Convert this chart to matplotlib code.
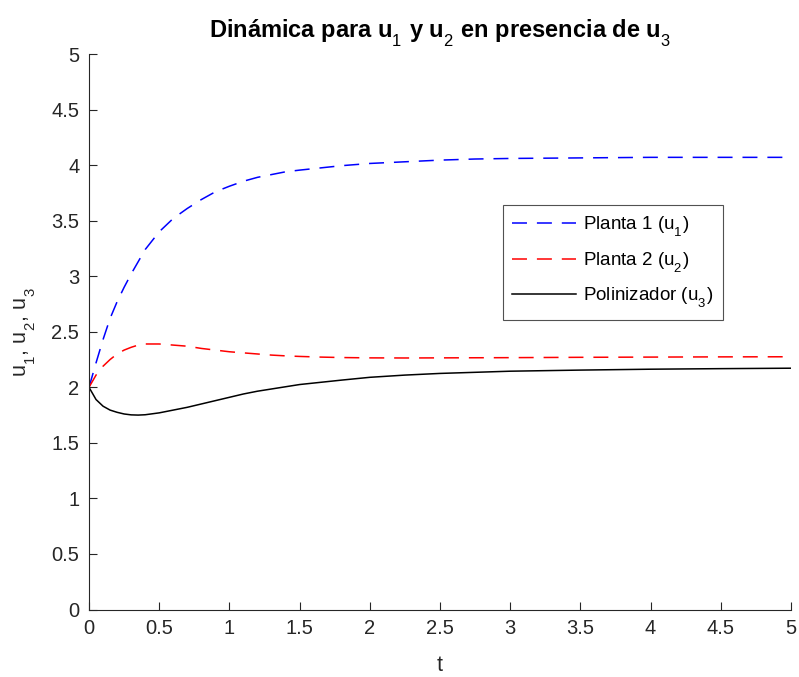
import matplotlib
matplotlib.use("Agg")
import matplotlib.pyplot as plt

plt.rcParams['font.family'] = ['Liberation Sans', 'DejaVu Sans']
plt.rcParams['mathtext.fontset'] = 'custom'
plt.rcParams['mathtext.rm'] = 'Liberation Sans'
plt.rcParams['mathtext.it'] = 'Liberation Sans'
plt.rcParams['mathtext.bf'] = 'Liberation Sans:bold'

# MATLAB-like subscripts: dropped lower, with a small gap after them
try:
    from matplotlib import _mathtext
    _mathtext.FontConstantsBase.sub1 = 0.75
    _mathtext.FontConstantsBase.sub2 = 0.85
    _mathtext.FontConstantsBase.script_space = 0.12
except Exception:
    pass

# values
t = [0.0, 0.05, 0.1, 0.15, 0.2, 0.25, 0.3, 0.35, 0.4, 0.5, 0.6, 0.7, 0.8, 0.9,
     1.0, 1.1, 1.2, 1.3, 1.4, 1.5, 1.65, 1.8, 2.0, 2.25, 2.5, 2.75, 3.0, 3.5, 4.0, 4.5, 5.0]
u1 = [2.0, 2.22, 2.43, 2.62, 2.77, 2.90, 3.02, 3.13, 3.24, 3.40, 3.52, 3.61, 3.69, 3.76,
      3.81, 3.855, 3.89, 3.915, 3.94, 3.955, 3.975, 3.995, 4.015, 4.03, 4.045, 4.055, 4.06, 4.065, 4.07, 4.07, 4.07]
u2 = [2.0, 2.11, 2.19, 2.25, 2.30, 2.335, 2.36, 2.38, 2.39, 2.39, 2.38, 2.37, 2.35, 2.335,
      2.32, 2.31, 2.30, 2.29, 2.283, 2.278, 2.272, 2.268, 2.265, 2.264, 2.265, 2.266, 2.267, 2.27, 2.272, 2.274, 2.275]
u3 = [2.0, 1.89, 1.83, 1.795, 1.775, 1.76, 1.752, 1.75, 1.753, 1.77, 1.795, 1.82, 1.85, 1.88,
      1.91, 1.94, 1.965, 1.985, 2.005, 2.025, 2.045, 2.065, 2.09, 2.11, 2.125, 2.135, 2.145, 2.155, 2.163, 2.168, 2.172]

labels = [r'Planta 1 (u$_1$)', r'Planta 2 (u$_2$)', r'Polinizador (u$_3$)']
ticks = [0, 0.5, 1, 1.5, 2, 2.5, 3, 3.5, 4, 4.5, 5]
tick_labels = ['0', '0.5', '1', '1.5', '2', '2.5', '3', '3.5', '4', '4.5', '5']

fig = plt.figure(figsize=(7.99, 6.77), dpi=100)
ax = fig.add_axes([0.1114, 0.0997, 0.8786, 0.8205])

dash = (0, (9.8, 6.5))
ax.plot(t, u1, color='blue', linestyle=dash, linewidth=1.1, label=labels[0])
ax.plot(t, u2, color='red', linestyle=dash, linewidth=1.1, label=labels[1])
ax.plot(t, u3, color='black', linestyle='-', linewidth=1.1, label=labels[2])

ax.set_xlim(0, 5)
ax.set_ylim(0, 5)
ax.set_xticks(ticks)
ax.set_xticklabels(tick_labels)
ax.set_yticks(ticks)
ax.set_yticklabels(tick_labels)
ax.tick_params(direction='in', length=6, width=0.8, labelsize=14.5, colors='#262626', pad=7)
ax.spines['top'].set_visible(False)
ax.spines['right'].set_visible(False)
for s in ['left', 'bottom']:
    ax.spines[s].set_color('#262626')
    ax.spines[s].set_linewidth(0.8)

ax.set_xlabel('t', fontsize=15.5, color='#262626', labelpad=12)
ax.set_ylabel(r'u$_1$, u$_2$, u$_3$', fontsize=15.5, color='#262626', labelpad=10)
ax.set_title(r'Dinámica para u$_1$ y u$_2$ en presencia de u$_3$',
             fontsize=17, fontweight='bold', pad=12)

leg = ax.legend(loc='upper left', bbox_to_anchor=(0.576, 0.745), fontsize=13.5,
                frameon=True, fancybox=False, edgecolor='#262626',
                handlelength=3.4, handletextpad=0.4, borderpad=0.5, labelspacing=0.6)
leg.get_frame().set_linewidth(0.8)

fig.savefig('out.png', dpi=100)
